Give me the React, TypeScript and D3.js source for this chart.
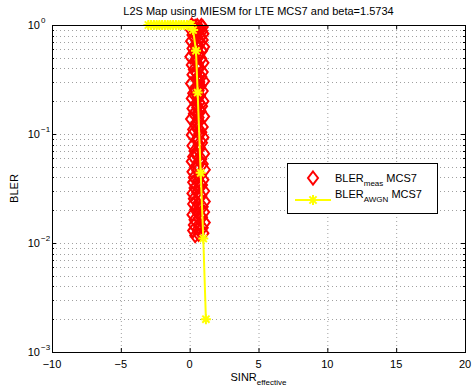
import React from "react";
import * as d3 from "d3";

const measSinr = [
  0.15, 0.85, 0.4, 0.95, 0.25, 0.7, 0.1, 0.9, 0.5, 1.0,
  0.2, 0.8, 0.35, 0.95, 0.1, 0.75, 0.45, 1.05, 0.2, 0.9,
  0.3, 0.65, 0.05, 0.85, 0.4, 1.0, 0.15, 0.7, 0.3, 0.95,
  0.2, 0.85, 0.5, 1.05, 0.1, 0.8, 0.35, 0.95, 0.25, 0.75,
  0.15, 1.0, 0.45, 0.9, 0.2, 0.8, 0.3, 1.05, 0.1, 0.7,
  0.4, 0.95, 0.25, 0.85, 0.15, 1.0, 0.5, 0.9, 0.2, 0.75,
  0.35, 1.05, 0.25, 0.85, 0.15, 0.95, 0.4, 1.1, 0.2, 0.8,
  0.3, 1.0, 0.25, 0.9, 0.35, 1.05, 0.2, 0.85, 0.3, 1.1,
  0.25, 0.95, 0.4, 1.05, 0.2, 0.9, 0.35, 1.1, 0.3, 0.95,
  0.25, 1.0, 0.4,
];
const measBler = [
  1, 0.99, 0.97, 0.96, 0.94, 0.92, 0.9, 0.88, 0.86, 0.83,
  0.81, 0.78, 0.76, 0.73, 0.71, 0.68, 0.66, 0.63, 0.61, 0.58,
  0.56, 0.54, 0.51, 0.49, 0.47, 0.45, 0.43, 0.41, 0.39, 0.37,
  0.35, 0.335, 0.32, 0.305, 0.29, 0.275, 0.26, 0.248, 0.236, 0.224,
  0.212, 0.2, 0.19, 0.18, 0.171, 0.162, 0.153, 0.145, 0.137, 0.13,
  0.123, 0.116, 0.11, 0.104, 0.098, 0.093, 0.088, 0.083, 0.078, 0.074,
  0.07, 0.066, 0.062, 0.059, 0.056, 0.053, 0.05, 0.047, 0.045, 0.042,
  0.04, 0.038, 0.036, 0.034, 0.032, 0.03, 0.0285, 0.027, 0.0255, 0.024,
  0.0228, 0.0215, 0.0203, 0.0192, 0.0182, 0.0172, 0.0163, 0.0154, 0.0146, 0.0138,
  0.013, 0.0123, 0.0117,
];
const measSinr2 = [
  0.55, 0.3, 0.75, 0.6, 0.45, 0.55, 0.65, 0.5, 0.6, 0.55,
  0.7, 0.45, 0.6, 0.65, 0.5, 0.6, 0.7, 0.55, 0.65, 0.5,
  0.6, 0.7, 0.55, 0.6, 0.65, 0.5, 0.6, 0.7, 0.55, 0.65,
  0.6, 0.5, 0.7, 0.6, 0.55, 0.65, 0.6, 0.7, 0.55, 0.65,
  0.6, 0.7, 0.6, 0.65, 0.7, 0.6, 0.65,
];
const measBler2 = [
  0.985, 0.95, 0.91, 0.87, 0.82, 0.77, 0.72, 0.67, 0.62, 0.57,
  0.52, 0.48, 0.44, 0.4, 0.36, 0.33, 0.3, 0.27, 0.25, 0.23,
  0.215, 0.195, 0.175, 0.158, 0.142, 0.127, 0.113, 0.101, 0.091, 0.081,
  0.072, 0.064, 0.057, 0.051, 0.046, 0.041, 0.037, 0.033, 0.029, 0.026,
  0.023, 0.021, 0.0187, 0.0168, 0.015, 0.0134, 0.012,
];

const awgnSinr = [
  -3.0, -2.8, -2.6, -2.4, -2.2, -2.0, -1.8, -1.6, -1.4, -1.2, -1.0, -0.8, -0.6,
  -0.4, -0.2, 0.0, 0.1, 0.25, 0.46, 0.58, 0.8, 0.99, 1.18,
];
const awgnBler = [
  1, 1, 1, 1, 1, 1, 1, 1, 1, 1, 1, 1, 1,
  1, 1, 1, 1, 0.9, 0.58, 0.24, 0.044, 0.011, 0.002,
];

const xTicks = [-10, -5, 0, 5, 10, 15, 20];
const yDecades = [-3, -2, -1, 0];

const title = "L2S Map using MIESM for LTE MCS7 and beta=1.5734";

export default function App() {
  const W = 473, H = 387;
  const L = 52, R = 465, T = 25, B = 352;
  const x = d3.scaleLinear().domain([-10, 20]).range([L, R]);
  const y = d3.scaleLog().domain([1e-3, 1]).range([B, T]);
  const font = "Liberation Sans, Arial, Helvetica, sans-serif";

  const minorY: number[] = [];
  yDecades.slice(0, 3).forEach((e) => {
    for (let k = 2; k <= 9; k++) minorY.push(k * Math.pow(10, e));
  });
  const majorY = yDecades.map((e) => Math.pow(10, e));

  const line = d3
    .line<number>()
    .x((_, i) => x(awgnSinr[i]))
    .y((_, i) => y(awgnBler[i]));

  const star = "M-5,0H5M0,-5V5M-3.6,-3.6L3.6,3.6M-3.6,3.6L3.6,-3.6";
  const diamond = "M0,-6.5L5,0L0,6.5L-5,0Z";

  const grid = "#a0a0a0";
  const meas = [
    ...measBler.map((b, i) => [measSinr[i], b]),
    ...measBler2.map((b, i) => [measSinr2[i], b]),
  ];

  return (
    <svg
      width={W}
      height={H}
      style={{ position: "absolute", left: 0, top: 0, background: "#fff" }}
      fontFamily={font}
    >
      <rect x={0} y={0} width={W} height={H} fill="#fff" />
      <g stroke={grid} strokeWidth={1} strokeDasharray="1,3">
        {xTicks.slice(1, -1).map((t) => (
          <line key={"gx" + t} x1={x(t) + 0.5} x2={x(t) + 0.5} y1={T} y2={B} />
        ))}
        {[...majorY.slice(1, -1), ...minorY].map((v, i) => (
          <line key={"gy" + i} x1={L} x2={R} y1={Math.round(y(v)) + 0.5} y2={Math.round(y(v)) + 0.5} />
        ))}
      </g>
      <g stroke="#000" strokeWidth={1}>
        {xTicks.map((t) => (
          <g key={"tx" + t}>
            <line x1={x(t) + 0.5} x2={x(t) + 0.5} y1={B} y2={B - 4} />
            <line x1={x(t) + 0.5} x2={x(t) + 0.5} y1={T} y2={T + 4} />
          </g>
        ))}
        {majorY.map((v, i) => (
          <g key={"ty" + i}>
            <line x1={L} x2={L + 4} y1={Math.round(y(v)) + 0.5} y2={Math.round(y(v)) + 0.5} />
            <line x1={R} x2={R - 4} y1={Math.round(y(v)) + 0.5} y2={Math.round(y(v)) + 0.5} />
          </g>
        ))}
        {minorY.map((v, i) => (
          <g key={"tmy" + i}>
            <line x1={L} x2={L + 2} y1={Math.round(y(v)) + 0.5} y2={Math.round(y(v)) + 0.5} />
            <line x1={R} x2={R - 2} y1={Math.round(y(v)) + 0.5} y2={Math.round(y(v)) + 0.5} />
          </g>
        ))}
      </g>
      <g fill="none" stroke="#ff0000" strokeWidth={2}>
        {meas.map((p, i) => (
          <path key={"m" + i} d={diamond} transform={`translate(${x(p[0])},${y(p[1])})`} />
        ))}
      </g>
      <path d={line(awgnSinr) || ""} fill="none" stroke="#ffff00" strokeWidth={2} />
      <g stroke="#ffff00" strokeWidth={2}>
        {awgnBler.map((b, i) => (
          <path key={"a" + i} d={star} transform={`translate(${x(awgnSinr[i])},${y(b)})`} />
        ))}
      </g>
      <rect x={L + 0.5} y={T + 0.5} width={R - L} height={B - T} fill="none" stroke="#000" strokeWidth={1} />
      <g fontSize={11} textAnchor="middle" fill="#000">
        {xTicks.map((t) => (
          <text key={"lx" + t} x={x(t)} y={368}>
            {t < 0 ? "\u2212" + Math.abs(t) : t}
          </text>
        ))}
      </g>
      <g fontSize={11} fill="#000">
        {yDecades.map((e) => (
          <text key={"ly" + e} x={40} y={y(Math.pow(10, e)) + 4} textAnchor="end">
            10
          </text>
        ))}
        {yDecades.map((e) => (
          <text key={"lye" + e} x={41} y={y(Math.pow(10, e)) - 2} fontSize={8}>
            {e < 0 ? "\u2212" + Math.abs(e) : e}
          </text>
        ))}
      </g>
      <text x={(L + R) / 2} y={15} fontSize={11} textAnchor="middle">
        {title}
      </text>
      <text x={(L + R) / 2} y={381} fontSize={11} textAnchor="middle">
        SINR
        <tspan fontSize={8} dy={4}>effective</tspan>
      </text>
      <text transform={`translate(18,${(T + B) / 2}) rotate(-90)`} fontSize={11} textAnchor="middle">
        BLER
      </text>
      <rect x={287.5} y={163.5} width={150} height={50} fill="#fff" stroke="#000" strokeWidth={1} />
      <path d={diamond} transform="translate(313,178)" fill="none" stroke="#ff0000" strokeWidth={2} />
      <text x={335} y={182} fontSize={11}>
        BLER<tspan fontSize={8} dy={4}>meas</tspan>
        <tspan dy={-4}> MCS7</tspan>
      </text>
      <line x1={295} x2={331} y1={200} y2={200} stroke="#ffff00" strokeWidth={2} />
      <path d={star} transform="translate(313,200)" stroke="#ffff00" strokeWidth={2} />
      <text x={335} y={198} fontSize={11}>
        BLER<tspan fontSize={8} dy={4}>AWGN</tspan>
        <tspan dy={-4}> MCS7</tspan>
      </text>
    </svg>
  );
}
